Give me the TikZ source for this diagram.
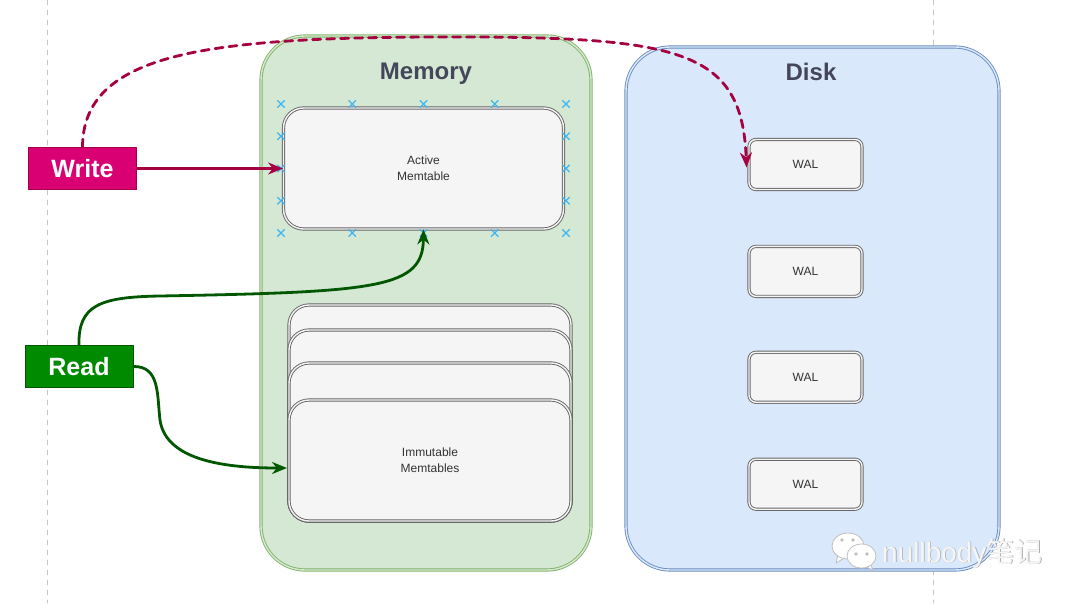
\documentclass[tikz,border=0pt]{standalone}
\usepackage{fontspec}
\setmainfont{Liberation Sans}
\newfontfamily\cjkfont{Noto Sans CJK SC}
\usetikzlibrary{positioning,arrows.meta}
\definecolor{memfill}{HTML}{D5E8D4}
\definecolor{memdraw}{HTML}{82B366}
\definecolor{diskfill}{HTML}{DAE8FC}
\definecolor{diskdraw}{HTML}{6C8EBF}
\definecolor{tblfill}{HTML}{F5F5F5}
\definecolor{tbldraw}{HTML}{666666}
\definecolor{writefill}{HTML}{D80073}
\definecolor{writedraw}{HTML}{A50040}
\definecolor{readfill}{HTML}{008A00}
\definecolor{readdraw}{HTML}{005700}
\definecolor{titletext}{HTML}{44475A}
\definecolor{markcol}{HTML}{3FB6F0}
\tikzset{
  container/.style={rounded corners=44pt, line width=0.9pt, double distance=1.4pt},
  memtable/.style={draw=tbldraw, double=tblfill, line width=0.9pt, double distance=1.4pt,
    fill=tblfill, rounded corners=20pt, align=center, text=black!80,
    font=\fontsize{12}{16}\selectfont},
  walbox/.style={draw=tbldraw, double=tblfill, line width=0.9pt, double distance=1.4pt,
    fill=tblfill, rounded corners=7pt, minimum width=113pt, minimum height=50pt,
    text=black!80, font=\fontsize{12}{14}\selectfont},
  title/.style={text=titletext, font=\bfseries\fontsize{24}{28}\selectfont},
  opbox/.style={minimum width=108pt, minimum height=42pt, line width=0.8pt,
    text=white, font=\bfseries\fontsize{25}{30}\selectfont},
  xmark/.style={markcol, line width=1.1pt},
  flow/.style={->, line width=2.8pt},
}
\begin{document}
\begin{tikzpicture}[line cap=round,line join=round,>={Stealth[length=15pt,width=12pt]},x=1pt,y=-1pt]
\useasboundingbox (0,0) rectangle (1080,603);
\draw [gray!45, line width=0.8pt, dash pattern=on 5pt off 5pt] (47,0) -- (47,603);
\draw [gray!45, line width=0.8pt, dash pattern=on 5pt off 5pt] (933,0) -- (933,603);

% containers
\draw [container, draw=memdraw, double=memfill, fill=memfill] (261,36) rectangle (591,570);
\draw [container, draw=diskdraw, double=diskfill, fill=diskfill] (626,47) rectangle (999,570);
\node [title] (memtitle) at (426,73.5) {Memory};
\node [title] (disktitle) at (811,72) {Disk};

% memtables
\node [memtable, minimum width=280pt, minimum height=121pt] (active) at (423.5,168.5) {Active\\Memtable};
\foreach \x in {281,352.25,423.5,494.75,566}
  \foreach \y in {104,233}
    \draw [xmark] (\x-3.5,\y-3.5) -- (\x+3.5,\y+3.5) (\x-3.5,\y+3.5) -- (\x+3.5,\y-3.5);
\foreach \x in {281,566}
  \foreach \y in {136.25,168.5,200.75}
    \draw [xmark] (\x-3.5,\y-3.5) -- (\x+3.5,\y+3.5) (\x-3.5,\y+3.5) -- (\x+3.5,\y-3.5);
\node [memtable, minimum width=282pt, minimum height=216pt] (imm1) at (430,413) {};
\node [memtable, minimum width=282pt, minimum height=191pt] (imm2) at (430,425.5) {};
\node [memtable, minimum width=282pt, minimum height=158pt] (imm3) at (430,442) {};
\node [memtable, minimum width=282pt, minimum height=121pt] (imm4) at (430,460.5) {Immutable\\Memtables};
\coordinate (immin) at (287,468);

% wal files
\node [walbox] (wal1) at (805.5,164.5) {WAL};
\node [walbox, below=56pt of wal1] (wal2) {WAL};
\node [walbox, below=55pt of wal2] (wal3) {WAL};
\node [walbox, below=56pt of wal3] (wal4) {WAL};

% operations
\node [opbox, draw=writedraw, fill=writefill] (write) at (82.5,168.5) {Write};
\node [opbox, draw=readdraw, fill=readfill] (read) at (79,366.5) {Read};

\draw [flow, writedraw] (write.east) -- (active.west);
\draw [flow, writedraw, dash pattern=on 8pt off 6pt]
  (write.north) .. controls (83,55) and (200,38) .. (430,37)
  .. controls (680,36) and (742,48) .. ([xshift=-2pt,yshift=-3pt]wal1.west);
\draw [flow, readdraw]
  (read.north) .. controls (78,305) and (100,297) .. (160,296)
  .. controls (380,292) and (423,288) .. (active.south);
\draw [flow, readdraw]
  (read.east) .. controls (160,366) and (157,395) .. (160,420)
  .. controls (166,462) and (230,468) .. (immin);

% watermark
\begin{scope}[draw=gray!50, line width=0.8pt]
\filldraw [fill=white] (838,555) -- (836,563) -- (846,557) -- cycle;
\filldraw [fill=white] (848,546) ellipse [x radius=16pt, y radius=13pt];
\filldraw [fill=white] (870,563) -- (873,570) -- (864,566) -- cycle;
\filldraw [fill=white] (861.5,556) ellipse [x radius=14.5pt, y radius=12pt];
\end{scope}
\foreach \p in {(842,540),(853,540),(856,554),(867,554)}
  \fill [gray!50] \p circle [radius=1.8pt];
\node [anchor=base west, gray!65, inner sep=0pt, font=\fontsize{28}{32}\selectfont] at (882.8,562.8) {nullbody\cjkfont 笔记};
\node [anchor=base west, white!93!gray, inner sep=0pt, font=\fontsize{28}{32}\selectfont] (wmark) at (882,562) {nullbody\cjkfont 笔记};
\end{tikzpicture}
\end{document}
